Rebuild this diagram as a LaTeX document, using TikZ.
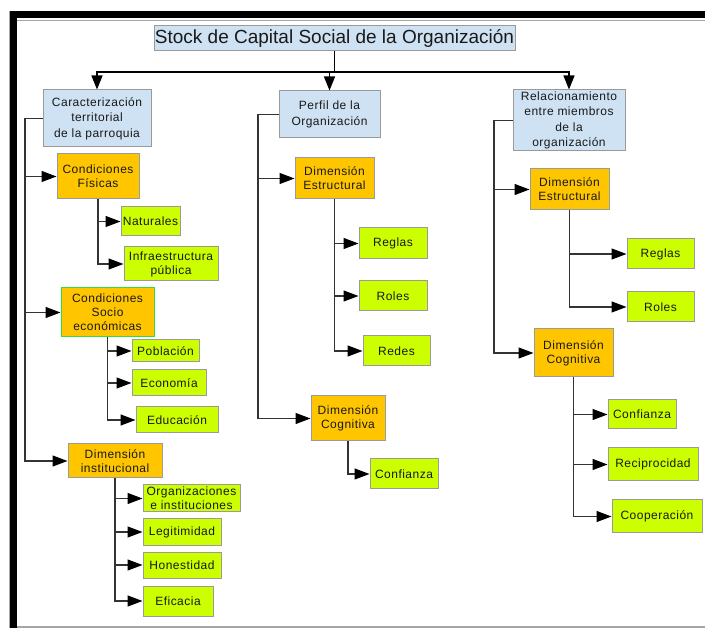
\documentclass[tikz,border=0pt]{standalone}
\usepackage{fontspec}
\setmainfont{Liberation Sans}
\newfontfamily\bxfont{Liberation Sans}[LetterSpace=4]
\usetikzlibrary{arrows.meta}
\definecolor{bluebox}{HTML}{CFE2F3}
\definecolor{orangebox}{HTML}{FFC600}
\definecolor{limebox}{HTML}{CCFF00}
\definecolor{boxline}{HTML}{9A9A9A}
\definecolor{greenline}{HTML}{33DD33}
\tikzset{
  basebox/.style={draw=boxline, line width=1pt, inner sep=0pt, align=center, text=black!90},
  titlebox/.style={basebox, fill=bluebox, font=\fontsize{19}{22}\selectfont},
  levelbox/.style={basebox, fill=bluebox, font=\bxfont\fontsize{12}{15.5}\selectfont},
  orangenode/.style={basebox, fill=orangebox, font=\bxfont\fontsize{12}{14}\selectfont},
  limenode/.style={basebox, fill=limebox, font=\bxfont\fontsize{12}{14}\selectfont},
  conn/.style={draw=black!80, line width=1.2pt},
  arr/.style={conn, -{Triangle[length=15pt,width=11pt,fill=black,color=black]}},
  toparr/.style={draw=black, line width=1.4pt, -{Triangle[length=14pt,width=11pt]}}
}
\newcommand\bx[7]{\node[#6, minimum width=#4pt-#2pt, minimum height=#5pt-#3pt] (#1) at ({(#2+#4)/2},{(#3+#5)/2}) {#7};}
\begin{document}
\begin{tikzpicture}[x=1pt,y=-1pt]
\useasboundingbox (0,0) rectangle (705,628);
% frame
\fill[black] (9,11) rectangle (705,18.5);
\fill[black] (9.5,11) rectangle (17,628);
\draw[gray!70, line width=1.2pt] (17,20.5) -- (705,20.5);
\draw[gray!70, line width=1pt] (9,11) -- (9,628);
\draw[gray!70, line width=1.5pt] (17,627) -- (705,627);

% boxes
\bx{title}{154}{26}{515}{51}{titlebox}{Stock de Capital Social de la Organización}
\bx{A}{43}{90}{151}{147}{levelbox}{Caracterización\\territorial\\de la parroquia}
\bx{B}{279}{91}{380}{138}{levelbox}{Perfil de la\\Organización}
\bx{C}{513}{90}{625}{151}{levelbox}{Relacionamiento\\entre miembros\\de la\\organización}

\bx{cf}{57}{154}{139}{199}{orangenode}{Condiciones\\Físicas}
\bx{nat}{121}{207}{180}{236}{limenode}{Naturales}
\bx{inf}{124}{247}{218}{281}{limenode}{Infraestructura\\pública}
\bx{cs}{61}{288}{154}{337}{orangenode, draw=greenline}{Condiciones\\Socio\\económicas}
\bx{pob}{132}{340}{199}{362}{limenode}{Población}
\bx{eco}{132}{370}{206}{396}{limenode}{Economía}
\bx{edu}{136}{407}{218}{433}{limenode}{Educación}
\bx{di}{68}{444}{162}{478}{orangenode}{Dimensión\\institucional}
\bx{org}{143}{485}{240}{512}{limenode}{Organizaciones\\e instituciones}
\bx{leg}{143}{519}{221}{545}{limenode}{Legitimidad}
\bx{hon}{143}{552}{221}{578}{limenode}{Honestidad}
\bx{efi}{143}{586}{213}{616}{limenode}{Eficacia}

\bx{deA}{295}{158}{374}{199}{orangenode}{Dimensión\\Estructural}
\bx{regA}{359}{228}{427}{259}{limenode}{Reglas}
\bx{rolA}{359}{281}{427}{311}{limenode}{Roles}
\bx{redA}{363}{336}{430}{366}{limenode}{Redes}
\bx{dcA}{311}{396}{385}{441}{orangenode}{Dimensión\\Cognitiva}
\bx{conA}{370}{459}{438}{489}{limenode}{Confianza}

\bx{deB}{530}{169}{609}{210}{orangenode}{Dimensión\\Estructural}
\bx{regB}{627}{239}{694}{269}{limenode}{Reglas}
\bx{rolB}{627}{292}{694}{322}{limenode}{Roles}
\bx{dcB}{534}{329}{613}{377}{orangenode}{Dimensión\\Cognitiva}
\bx{conB}{608}{400}{676}{429}{limenode}{Confianza}
\bx{recB}{608}{448}{698}{481}{limenode}{Reciprocidad}
\bx{cooB}{612}{500}{702}{533}{limenode}{Cooperación}

% trunk coordinates
\coordinate (hb) at (0,72);
\coordinate (tA) at (25,0);
\coordinate (tB) at (258,0);
\coordinate (tC) at (494,0);

% top connectors
\draw[toparr] (title.south) -- (title.south |- hb) -| (A.north);
\draw[toparr] (title.south) -- (title.south |- hb) -| (B.north);
\draw[toparr] (title.south) -- (title.south |- hb) -| (C.north);

% left column
\foreach \n in {cf,cs,di}{
  \draw[arr] (A.west) -- (A.west -| tA) |- (\n.west);
}
\foreach \n in {nat,inf}{\draw[arr] (cf.south) |- (\n.west);}
\foreach \n in {pob,eco,edu}{\draw[arr] (cs.south) |- (\n.west);}
\foreach \n in {org,leg,hon,efi}{\draw[arr] (di.south) |- (\n.west);}

% middle column
\foreach \n in {deA,dcA}{
  \draw[arr] (B.west) -- (B.west -| tB) |- (\n.west);
}
\foreach \n in {regA,rolA,redA}{\draw[arr] (deA.south) |- (\n.west);}
\draw[arr] (dcA.south) |- (conA.west);

% right column
\foreach \n in {deB,dcB}{
  \draw[arr] (C.west) -- (C.west -| tC) |- (\n.west);
}
\foreach \n in {regB,rolB}{\draw[arr] (deB.south) |- (\n.west);}
\foreach \n in {conB,recB,cooB}{\draw[arr] (dcB.south) |- (\n.west);}
\end{tikzpicture}
\end{document}
